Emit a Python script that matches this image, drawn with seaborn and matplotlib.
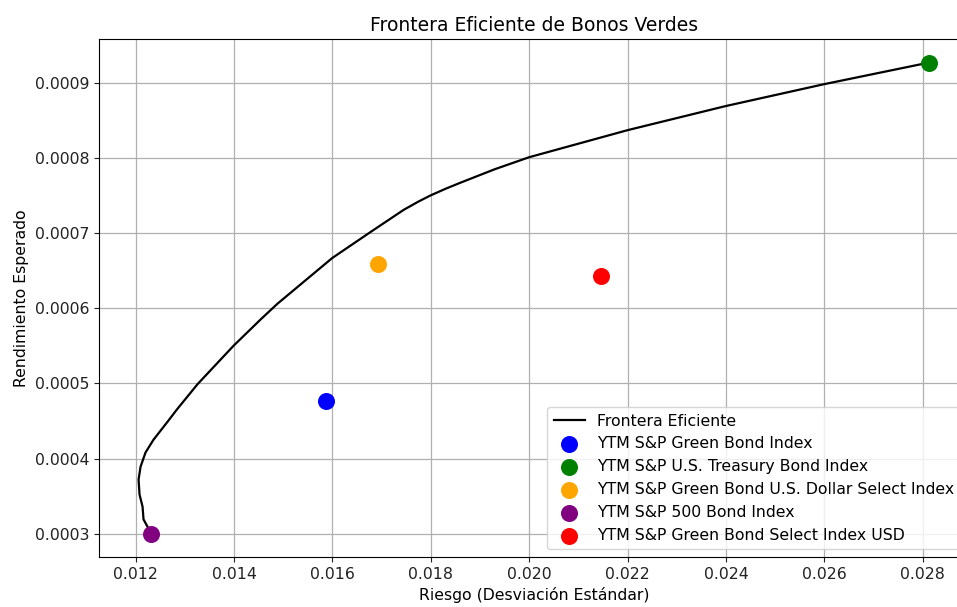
import matplotlib
matplotlib.use("Agg")
import matplotlib.pyplot as plt
import seaborn as sns
import pandas as pd

# Efficient frontier (risk, expected return)
frontier_risk = [0.01232, 0.012162, 0.012142, 0.012081, 0.012061, 0.012101, 0.012202,
                 0.012364, 0.01265, 0.012849, 0.01326, 0.01399, 0.01454, 0.014883,
                 0.0160, 0.016833, 0.01745, 0.01775, 0.01799, 0.0183, 0.0186, 0.0193,
                 0.0200, 0.0220, 0.02399, 0.02598, 0.02813]
frontier_return = [0.000300, 0.000319, 0.000336, 0.000352, 0.000372, 0.000389, 0.000408,
                   0.000425, 0.000449, 0.000466, 0.000499, 0.000550, 0.000585, 0.000606,
                   0.000667, 0.000704, 0.000731, 0.000742, 0.000750, 0.000759, 0.000767,
                   0.000785, 0.000801, 0.000837, 0.000869, 0.000898, 0.000927]

# Individual indices
index_names = ["YTM S&P Green Bond Index",
               "YTM S&P U.S. Treasury Bond Index",
               "YTM S&P Green Bond U.S. Dollar Select Index",
               "YTM S&P 500 Bond Index",
               "YTM S&P Green Bond Select Index USD"]
index_risk = [0.01588, 0.02813, 0.01693, 0.01232, 0.02145]
index_return = [0.000476, 0.000927, 0.000659, 0.000300, 0.000643]
index_colors = ["blue", "green", "orange", "purple", "red"]

frontier = pd.DataFrame({"risk": frontier_risk, "ret": frontier_return})

fs = 11.3
fig = plt.figure(figsize=(9.57, 6.07), dpi=100)
ax = fig.add_axes([0.1034, 0.0824, 0.909, 0.853])

sns.lineplot(data=frontier, x="risk", y="ret", sort=False, color="black",
             linewidth=1.6, label="Frontera Eficiente", ax=ax)
for name, r, m, c in zip(index_names, index_risk, index_return, index_colors):
    sns.scatterplot(x=[r], y=[m], color=c, s=150, linewidth=0, label=name,
                    ax=ax, zorder=3)

ax.set_xticks([0.012, 0.014, 0.016, 0.018, 0.020, 0.022, 0.024, 0.026, 0.028])
ax.set_xticklabels(["0.012", "0.014", "0.016", "0.018", "0.020", "0.022",
                    "0.024", "0.026", "0.028"])
ax.set_yticks([0.0003, 0.0004, 0.0005, 0.0006, 0.0007, 0.0008, 0.0009])
ax.set_yticklabels(["0.0003", "0.0004", "0.0005", "0.0006", "0.0007",
                    "0.0008", "0.0009"])
ax.set_xlim(0.011256, 0.028934)
ax.set_ylim(0.000269, 0.000958)
ax.tick_params(labelsize=fs, colors="#222222")
ax.grid(True, color="#b0b0b0", linewidth=0.9)
ax.set_axisbelow(True)

ax.set_title("Frontera Eficiente de Bonos Verdes", fontsize=13.5)
ax.set_xlabel("Riesgo (Desviación Estándar)", fontsize=fs)
ax.set_ylabel("Rendimiento Esperado", fontsize=fs)
ax.legend(loc="lower right", fontsize=fs)

fig.savefig("out.png", dpi=100)
